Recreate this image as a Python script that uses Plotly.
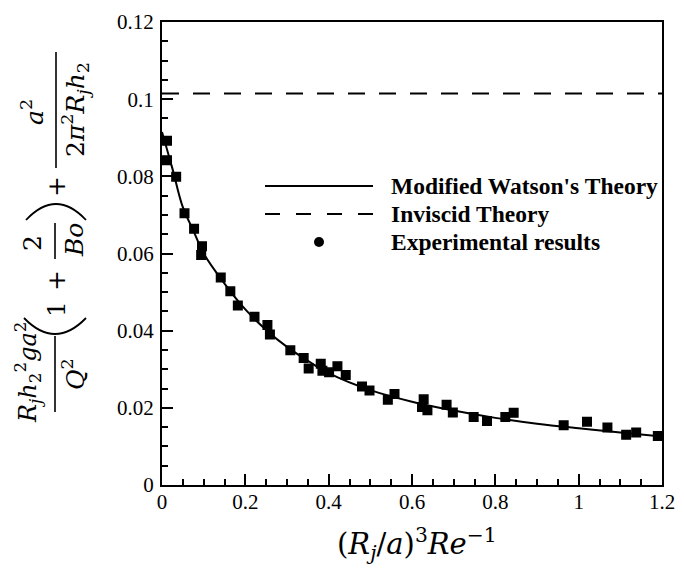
import plotly.graph_objects as go

# ---------------- data ----------------
exp_x = [0.012, 0.012, 0.034, 0.054, 0.077, 0.096, 0.094, 0.141, 0.164, 0.182,
         0.222, 0.253, 0.259, 0.308, 0.340, 0.352, 0.381, 0.385, 0.401, 0.421,
         0.441, 0.480, 0.498, 0.542, 0.558, 0.628, 0.624, 0.637, 0.683, 0.698,
         0.748, 0.780, 0.824, 0.844, 0.964, 1.020, 1.069, 1.114, 1.138, 1.190]
exp_y = [0.0892, 0.0842, 0.0799, 0.0704, 0.0664, 0.0619, 0.0596, 0.0538, 0.0502, 0.0465,
         0.0436, 0.0415, 0.0390, 0.0349, 0.0329, 0.0302, 0.0314, 0.0296, 0.0292, 0.0308,
         0.0285, 0.0255, 0.0245, 0.0221, 0.0236, 0.0222, 0.0202, 0.0194, 0.0208, 0.0188,
         0.0176, 0.0166, 0.0176, 0.0187, 0.0155, 0.0164, 0.0149, 0.0130, 0.0136, 0.0127]

watson_x = [0, 0.025, 0.05, 0.075, 0.1, 0.15, 0.2, 0.25, 0.3, 0.35, 0.4, 0.5,
            0.6, 0.7, 0.8, 0.9, 1.0, 1.1, 1.2]
watson_y = [0.0915, 0.0820, 0.0720, 0.0660, 0.0600, 0.0522, 0.0455, 0.0402, 0.0358,
            0.0322, 0.0290, 0.0246, 0.0216, 0.0193, 0.0174, 0.0159, 0.0147, 0.0136, 0.0126]

inviscid_x = [0, 1.2]
inviscid_y = [0.1015, 0.1015]

legend_labels = ["Modified Watson's Theory", "Inviscid Theory", "Experimental results"]

# ---------------- layout helpers ----------------
# page has an 8px body margin; figure sized to fit inside the 684x568 window
OFF = 8
W, H = 684 - OFF, 568 - OFF
PX0, PX1, PY0, PY1 = 162, 662, 22, 485        # plot area in page pixels
L, T = PX0 - OFF, PY0 - OFF
PW, PH = PX1 - PX0, PY1 - PY0
R, B = W - L - PW, H - T - PH


def P(px, py):
    return (px - PX0) / PW, (PY1 - py) / PH


SERIF = "Liberation Serif"
MATH = "DejaVu Serif"

fig = go.Figure()

fig.add_trace(go.Scatter(x=watson_x, y=watson_y, mode="lines",
                         line=dict(color="black", width=2, shape="spline"),
                         name=legend_labels[0], showlegend=False))
fig.add_trace(go.Scatter(x=inviscid_x, y=inviscid_y, mode="lines",
                         line=dict(color="black", width=2, dash="17px,14px"),
                         name=legend_labels[1], showlegend=False))
fig.add_trace(go.Scatter(x=exp_x, y=exp_y, mode="markers",
                         marker=dict(symbol="square", size=8.5, color="black",
                                     line=dict(color="black", width=1.5)),
                         name=legend_labels[2], showlegend=False))

shapes = []
annotations = []

# ---- manual legend ----
rows_y = [186, 214, 242]
for i, lab in enumerate(legend_labels):
    x0, y0 = P(265, rows_y[i])
    x1, _ = P(373, rows_y[i])
    if i == 0:
        shapes.append(dict(type="line", xref="paper", yref="paper", x0=x0, x1=x1, y0=y0, y1=y0,
                           line=dict(color="black", width=2)))
    elif i == 1:
        shapes.append(dict(type="line", xref="paper", yref="paper", x0=x0, x1=x1, y0=y0, y1=y0,
                           line=dict(color="black", width=2, dash="15px,16px")))
    else:
        cx0, cy0 = P(314, rows_y[i] - 5)
        cx1, cy1 = P(324, rows_y[i] + 5)
        shapes.append(dict(type="circle", xref="paper", yref="paper", x0=cx0, x1=cx1, y0=cy1, y1=cy0,
                           fillcolor="black", line=dict(color="black", width=0)))
    tx, ty = P(389, rows_y[i])
    annotations.append(dict(xref="paper", yref="paper", x=tx, y=ty, xanchor="left", yanchor="middle",
                            text="<b>%s</b>" % lab, showarrow=False,
                            font=dict(family=SERIF, size=23.5, color="black")))

# ---- y-axis title built from pieces (rotated) ----
def rot_text(px, py, text, size=25):
    x, y = P(px, py)
    annotations.append(dict(xref="paper", yref="paper", x=x, y=y, xanchor="center", yanchor="middle",
                            text=text, textangle=-90, showarrow=False,
                            font=dict(family=MATH, size=size, color="black")))


def vbar(px, py0, py1):
    x, y0 = P(px, py0)
    _, y1 = P(px, py1)
    shapes.append(dict(type="line", xref="paper", yref="paper", x0=x, x1=x, y0=y0, y1=y1,
                       line=dict(color="black", width=1.6)))


def paren(px0, px1, pyend, pyctrl):
    a = P(px0, pyend)
    c = P((px0 + px1) / 2, pyctrl)
    b = P(px1, pyend)
    shapes.append(dict(type="path", xref="paper", yref="paper",
                       path="M %f,%f Q %f,%f %f,%f" % (a[0], a[1], c[0], c[1], b[0], b[1]),
                       line=dict(color="black", width=1.8)))


# first fraction
rot_text(27, 372, "<i>R</i><sub><i>j</i></sub><i>h</i><sub>2</sub><sup>2</sup><i>ga</i><sup>2</sup>", size=24)
vbar(55, 336, 412)
rot_text(73, 374, "<i>Q</i><sup>2</sup>")
# (1 + 2/Bo)
paren(24, 86, 318, 350)
rot_text(56, 309, "1")
rot_text(56, 281, "+")
rot_text(32, 243, "2")
vbar(55, 223, 259)
rot_text(74, 240, "<i>Bo</i>")
paren(26, 86, 220, 188)
rot_text(56, 187, "+")
# a^2/(2 pi^2 R_j h_2)
rot_text(32, 112, "<i>a</i><sup>2</sup>")
vbar(56, 52, 168)
rot_text(75, 110, "2<i>π</i><sup>2</sup><i>R</i><sub><i>j</i></sub><i>h</i><sub>2</sub>")

# ---- x-axis title ----
tx, ty = P(417, 544)
annotations.append(dict(xref="paper", yref="paper", x=tx, y=ty, xanchor="center", yanchor="middle",
                        text="(<i>R</i><sub><i>j</i></sub>/<i>a</i>)<sup>3</sup><i>Re</i><sup>−1</sup>",
                        showarrow=False, font=dict(family=MATH, size=29, color="black")))

axis_common = dict(showline=True, linecolor="black", linewidth=2, mirror=True,
                   ticks="inside", ticklen=11, tickwidth=2, tickcolor="black",
                   showgrid=False, zeroline=False, automargin=False,
                   tickfont=dict(family=SERIF, size=21, color="black"))

fig.update_layout(
    width=W, height=H,
    margin=dict(l=L, r=R, t=T, b=B, autoexpand=False),
    paper_bgcolor="white", plot_bgcolor="white",
    xaxis=dict(range=[0, 1.2], dtick=0.2, tick0=0, ticklabelstandoff=-3,
               minor=dict(ticks="inside", dtick=0.05, ticklen=6, tickwidth=1.5, tickcolor="black"),
               **axis_common),
    yaxis=dict(range=[0, 0.12], dtick=0.02, tick0=0, ticklabelstandoff=2,
               minor=dict(ticks="inside", dtick=0.005, ticklen=6, tickwidth=1.5, tickcolor="black"),
               **axis_common),
    shapes=shapes,
    annotations=annotations,
    showlegend=False,
)

fig.write_html("out.html")
